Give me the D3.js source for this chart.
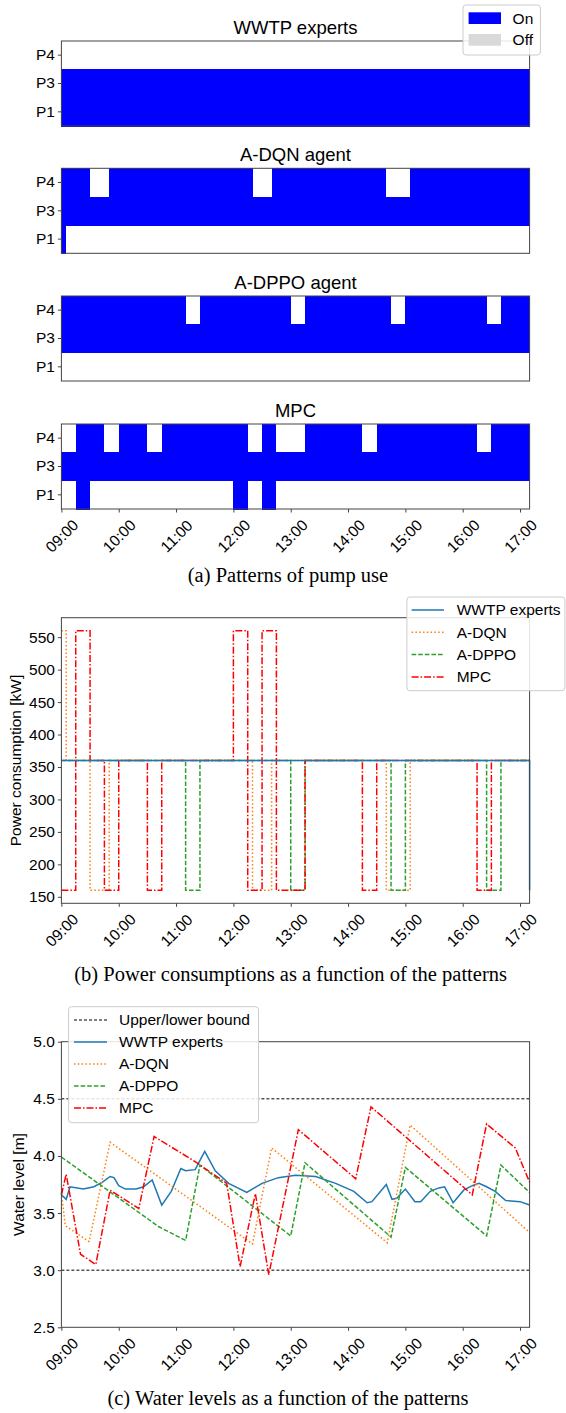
<!DOCTYPE html>
<html><head><meta charset="utf-8">
<script src="https://cdn.jsdelivr.net/npm/d3@7"></script>
<style>
body{margin:0;background:#fff}
text{font-family:"Liberation Sans",Arial,sans-serif;fill:#000}
.cap{font-family:"Liberation Serif","Times New Roman",serif}
</style></head><body>
<script>
var parse = d3.timeParse('%H:%M');

// pump patterns: [pump, on from, on until]
var pumps = ['P4','P3','P1'];
var panelTitles = ['WWTP experts','A-DQN agent','A-DPPO agent','MPC'];
var wwtpOn = [['P3','09:00','17:10'],['P1','09:00','17:10']];
var dqnOn = [['P4','09:00','09:30'],['P4','09:50','12:20'],['P4','12:40','14:40'],['P4','15:05','17:10'],
             ['P3','09:00','17:10'],['P1','09:00','09:05']];
var dppoOn = [['P4','09:00','11:10'],['P4','11:25','13:00'],['P4','13:15','14:45'],['P4','15:00','16:25'],['P4','16:40','17:10'],
              ['P3','09:00','17:10']];
var mpcOn = [['P4','09:15','09:45'],['P4','10:00','10:30'],['P4','10:45','12:15'],['P4','12:30','12:45'],['P4','13:15','14:15'],
             ['P4','14:30','16:15'],['P4','16:30','17:10'],['P3','09:00','17:10'],
             ['P1','09:15','09:30'],['P1','12:00','12:15'],['P1','12:30','12:45']];

// power consumption steps
var wwtpPowerT = ['09:00','17:10'];
var wwtpPowerV = [360,160];
var dqnPowerT = ['09:00','09:05','09:30','09:50','12:20','12:40','14:40','15:05','17:10'];
var dqnPowerV = [560,360,160,360,160,360,160,360,360];
var dppoPowerT = ['09:00','11:10','11:25','13:00','13:15','14:45','15:00','16:25','16:40','17:10'];
var dppoPowerV = [360,160,360,160,360,160,360,160,360,360];
var mpcPowerT = ['09:00','09:15','09:30','09:45','10:00','10:30','10:45','12:00','12:15','12:30','12:45','13:15','14:15','14:30','16:15','16:30','17:10'];
var mpcPowerV = [160,560,360,160,360,160,360,560,160,560,160,360,160,360,160,360,360];
var powerTicks = [150,200,250,300,350,400,450,500,550];

// water levels
var wwtpLevelT = ['09:00','09:05','09:09','09:23','09:34','09:43','09:51','09:55','10:00','10:07','10:18','10:26','10:35','10:45','10:55',
  '11:05','11:10','11:20','11:30','11:41','11:55','12:14','12:22','12:30','12:47','13:05','13:26','13:47','14:06','14:20','14:25',
  '14:40','14:46','14:51','15:00','15:10','15:16','15:26','15:35','15:41','15:50','16:01','16:10','16:17','16:25','16:34','16:45','17:00','17:10'];
var wwtpLevelV = [3.66,3.62,3.73,3.71,3.73,3.77,3.82,3.81,3.74,3.71,3.71,3.73,3.79,3.57,3.69,
  3.89,3.87,3.88,4.04,3.87,3.76,3.68,3.72,3.76,3.81,3.83,3.82,3.76,3.69,3.59,3.60,
  3.75,3.62,3.63,3.71,3.60,3.60,3.69,3.72,3.73,3.59,3.70,3.74,3.76,3.73,3.69,3.61,3.60,3.57];
var dqnLevelT = ['09:00','09:04','09:29','09:51','12:20','12:40','14:41','15:05','17:10'];
var dqnLevelV = [3.68,3.39,3.25,4.12,3.23,4.07,3.24,4.27,3.33];
var dppoLevelT = ['09:00','10:42','11:10','11:25','13:00','13:15','14:45','15:00','16:25','16:40','17:10'];
var dppoLevelV = [3.99,3.38,3.26,3.92,3.30,3.94,3.29,3.90,3.30,3.92,3.68];
var mpcLevelT = ['09:00','09:05','09:20','09:36','09:51','10:21','10:37','11:20','11:53','12:07','12:23','12:37','13:08','14:08','14:24','16:10','16:25','16:55','17:10'];
var mpcLevelV = [3.66,3.84,3.14,3.05,3.70,3.54,4.17,3.95,3.76,3.03,3.67,2.96,4.23,3.80,4.43,3.66,4.28,4.07,3.77];
var levelTicks = [2.5,3.0,3.5,4.0,4.5,5.0];
var levelBounds = [3.0,4.5];

var seriesNames = ['WWTP experts','A-DQN','A-DPPO','MPC'];
var seriesColors = ['#1f77b4','#ff7f0e','#2ca02c','#ff0000'];
var seriesDash = ['none','1.5,2.3','4.6,2','7,2,1.5,2'];

var W = 566, H = 1413;
var left = 61.4, right = 529.6;
var frameColor = '#444';

var svg = d3.select('body').append('svg')
  .attr('width', W).attr('height', H)
  .style('background', '#fff');

var x = d3.scaleTime()
  .domain([parse('09:00'), parse('17:10')])
  .range([left, right]);

function pairs(ts, vs){
  return ts.map(function(t,i){ return [parse(t), vs[i]]; });
}

function frame(top, bottom){
  svg.append('rect')
    .attr('x', left).attr('y', top)
    .attr('width', right-left).attr('height', bottom-top)
    .attr('fill', 'none').attr('stroke', frameColor).attr('stroke-width', 1);
}

function styleAxis(g, size){
  g.select('.domain').remove();
  g.selectAll('.tick line').attr('stroke', frameColor);
  g.selectAll('.tick text').style('font-size', size+'px').attr('fill', '#000');
}

function timeAxis(bottom){
  var g = svg.append('g')
    .attr('transform', 'translate(0,'+bottom+')')
    .call(d3.axisBottom(x).ticks(d3.timeHour.every(1)).tickFormat(d3.timeFormat('%H:%M')).tickSize(3.5));
  styleAxis(g, 15.5);
  g.selectAll('.tick text')
    .attr('y', 0).attr('dy', '0.35em')
    .attr('text-anchor', 'middle')
    .attr('transform', 'translate(0,27) rotate(-45)');
}

// (a) pump patterns
var panelTops = [41, 168.3, 296, 424];
var panelH = 85;
var patterns = [wwtpOn, dqnOn, dppoOn, mpcOn];

patterns.forEach(function(p, k){
  var top = panelTops[k], bottom = top + panelH;
  var yb = d3.scaleBand().domain(pumps).range([top, bottom]);

  svg.append('g').selectAll('rect')
    .data(p)
    .enter()
    .append('rect')
    .attr('x', function(d){ return x(parse(d[1])); })
    .attr('width', function(d){ return x(parse(d[2])) - x(parse(d[1])); })
    .attr('y', function(d){ return yb(d[0]); })
    .attr('height', yb.bandwidth() + 0.6)
    .attr('fill', '#0000ff')
    .attr('shape-rendering', 'crispEdges');

  frame(top, bottom);

  var ga = svg.append('g')
    .attr('transform', 'translate('+left+',0)')
    .call(d3.axisLeft(yb).tickSize(3.5).tickPadding(3));
  styleAxis(ga, 15.5);

  svg.append('text')
    .attr('x', (left+right)/2).attr('y', top - 7.5)
    .attr('text-anchor', 'middle')
    .style('font-size', '18.5px')
    .text(panelTitles[k]);

  if (k === 3) timeAxis(bottom);
});

// On / Off legend
var lg = svg.append('g');
lg.append('rect')
  .attr('x', 463).attr('y', 5).attr('width', 77.4).attr('height', 50).attr('rx', 3)
  .attr('fill', '#fff').attr('fill-opacity', 0.85).attr('stroke', '#ccc');
[['On','#0000ff'],['Off','#d9d9d9']].forEach(function(e, i){
  lg.append('rect').attr('x', 468.6).attr('y', 12.3 + i*21.7).attr('width', 32.4).attr('height', 11.7).attr('fill', e[1]);
  lg.append('text').attr('x', 512.6).attr('y', 18.3 + i*21.7).attr('dy', '0.35em')
    .style('font-size', '15.5px').text(e[0]);
});

svg.append('text').attr('class', 'cap')
  .attr('x', 288).attr('y', 582)
  .attr('text-anchor', 'middle').style('font-size', '20.5px')
  .text('(a) Patterns of pump use');

// (b) power consumption
var pTop = 617.7, pBottom = 903.3;
var yP = d3.scaleLinear().domain([140, 580]).range([pBottom, pTop]);
var stepLine = d3.line()
  .x(function(d){ return x(d[0]); })
  .y(function(d){ return yP(d[1]); })
  .curve(d3.curveStepAfter);

var powerData = [pairs(wwtpPowerT, wwtpPowerV), pairs(dqnPowerT, dqnPowerV), pairs(dppoPowerT, dppoPowerV), pairs(mpcPowerT, mpcPowerV)];
[1,2,3,0].forEach(function(i){
  svg.append('path')
    .datum(powerData[i])
    .attr('d', stepLine)
    .attr('fill', 'none')
    .attr('stroke', seriesColors[i])
    .attr('stroke-width', 1.5)
    .attr('stroke-dasharray', seriesDash[i]);
});

frame(pTop, pBottom);
var gp = svg.append('g')
  .attr('transform', 'translate('+left+',0)')
  .call(d3.axisLeft(yP).tickValues(powerTicks).tickSize(3.5).tickPadding(3));
styleAxis(gp, 15.5);
timeAxis(pBottom);

svg.append('text')
  .attr('transform', 'translate(16,'+((pTop+pBottom)/2)+') rotate(-90)')
  .attr('text-anchor', 'middle').attr('dy', '0.35em')
  .style('font-size', '15.5px')
  .text('Power consumption [kW]');

var pl = svg.append('g');
pl.append('rect')
  .attr('x', 406.9).attr('y', 597).attr('width', 158).attr('height', 93.7).attr('rx', 3)
  .attr('fill', '#fff').attr('fill-opacity', 0.85).attr('stroke', '#ccc');
seriesNames.forEach(function(n, i){
  var yy = 610 + i*22.3;
  pl.append('line').attr('x1', 411.6).attr('x2', 444).attr('y1', yy).attr('y2', yy)
    .attr('stroke', seriesColors[i]).attr('stroke-width', 1.5).attr('stroke-dasharray', seriesDash[i]);
  pl.append('text').attr('x', 456.7).attr('y', yy).attr('dy', '0.35em')
    .style('font-size', '15.5px').text(n);
});

svg.append('text').attr('class', 'cap')
  .attr('x', 290.6).attr('y', 981)
  .attr('text-anchor', 'middle').style('font-size', '20.5px')
  .text('(b) Power consumptions as a function of the patterns');

// (c) water levels
var wTop = 1041.7, wBottom = 1327.3;
var yW = d3.scaleLinear().domain([2.5, 5.0]).range([wBottom, wTop]);
var levelLine = d3.line()
  .x(function(d){ return x(d[0]); })
  .y(function(d){ return yW(d[1]); });

svg.append('g').selectAll('line')
  .data(levelBounds)
  .enter()
  .append('line')
  .attr('x1', left).attr('x2', right)
  .attr('y1', function(d){ return yW(d); })
  .attr('y2', function(d){ return yW(d); })
  .attr('stroke', '#000').attr('stroke-width', 1).attr('stroke-dasharray', '3,2');

var levelData = [pairs(wwtpLevelT, wwtpLevelV), pairs(dqnLevelT, dqnLevelV), pairs(dppoLevelT, dppoLevelV), pairs(mpcLevelT, mpcLevelV)];
levelData.forEach(function(d, i){
  svg.append('path')
    .datum(d)
    .attr('d', levelLine)
    .attr('fill', 'none')
    .attr('stroke', seriesColors[i])
    .attr('stroke-width', 1.5)
    .attr('stroke-dasharray', seriesDash[i]);
});

frame(wTop, wBottom);
var gw = svg.append('g')
  .attr('transform', 'translate('+left+',0)')
  .call(d3.axisLeft(yW).tickValues(levelTicks).tickFormat(d3.format('.1f')).tickSize(3.5).tickPadding(3));
styleAxis(gw, 15.5);
timeAxis(wBottom);

svg.append('text')
  .attr('transform', 'translate(19,'+((wTop+wBottom)/2)+') rotate(-90)')
  .attr('text-anchor', 'middle').attr('dy', '0.35em')
  .style('font-size', '15.5px')
  .text('Water level [m]');

var wl = svg.append('g');
wl.append('rect')
  .attr('x', 68.6).attr('y', 1006.7).attr('width', 189.9).attr('height', 116).attr('rx', 3)
  .attr('fill', '#fff').attr('fill-opacity', 0.85).attr('stroke', '#ccc');
var wlNames = ['Upper/lower bound'].concat(seriesNames);
var wlColors = ['#000'].concat(seriesColors);
var wlDash = ['3,2'].concat(seriesDash);
wlNames.forEach(function(n, i){
  var yy = 1020 + i*22;
  wl.append('line').attr('x1', 74).attr('x2', 107).attr('y1', yy).attr('y2', yy)
    .attr('stroke', wlColors[i]).attr('stroke-width', i === 0 ? 1 : 1.5).attr('stroke-dasharray', wlDash[i]);
  wl.append('text').attr('x', 119).attr('y', yy).attr('dy', '0.35em')
    .style('font-size', '15.5px').text(n);
});

svg.append('text').attr('class', 'cap')
  .attr('x', 288).attr('y', 1405)
  .attr('text-anchor', 'middle').style('font-size', '20.5px')
  .text('(c) Water levels as a function of the patterns');
</script></body></html>
